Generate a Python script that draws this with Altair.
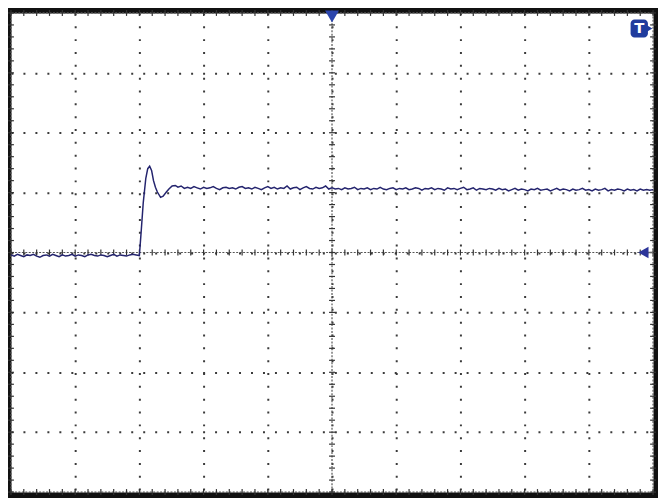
import altair as alt
import pandas as pd

# ---- trace data (divisions) ----
base_v = [-0.04, -0.06, -0.03, -0.05, -0.07, -0.04, -0.05, -0.03, -0.06, -0.08,
          -0.05, -0.04, -0.06, -0.03, -0.05, -0.07, -0.04, -0.06, -0.05, -0.03,
          -0.06, -0.04, -0.05, -0.07, -0.04, -0.03, -0.05, -0.06, -0.04, -0.05,
          -0.07, -0.05, -0.03, -0.06, -0.04, -0.05, -0.06, -0.04, -0.03, -0.04]
base_t = [round(-5 + 0.05 * i, 2) for i in range(len(base_v))]

rise_t = [-3.00, -2.97, -2.94, -2.90, -2.87, -2.84, -2.81, -2.78, -2.75, -2.72,
          -2.67, -2.63, -2.58, -2.54, -2.49, -2.44, -2.40, -2.35, -2.30]
rise_v = [-0.05, 0.38, 0.83, 1.24, 1.40, 1.44, 1.37, 1.20, 1.09, 1.01,
          0.92, 0.94, 1.01, 1.06, 1.11, 1.12, 1.09, 1.11, 1.07]

settle_v = [1.09, 1.07, 1.10, 1.08, 1.06, 1.09, 1.07, 1.08, 1.10, 1.07,
            1.05, 1.08, 1.09, 1.07, 1.08, 1.06, 1.09, 1.10, 1.07, 1.08,
            1.06, 1.09, 1.07, 1.05, 1.08, 1.10, 1.07, 1.09, 1.06, 1.08,
            1.07, 1.11, 1.06, 1.08, 1.09, 1.05, 1.08, 1.10, 1.07, 1.06,
            1.09, 1.07, 1.08, 1.11, 1.06,
            1.08, 1.06, 1.07, 1.05, 1.08, 1.06, 1.07, 1.09, 1.05, 1.07,
            1.06, 1.08, 1.05, 1.07, 1.06, 1.09, 1.06, 1.05, 1.07, 1.08,
            1.05, 1.07, 1.06, 1.08, 1.05, 1.06, 1.08, 1.07, 1.04, 1.07,
            1.06, 1.08, 1.05, 1.07, 1.06, 1.04, 1.08, 1.06, 1.07, 1.05,
            1.07, 1.09, 1.05, 1.06, 1.08, 1.04, 1.07, 1.06, 1.05, 1.07,
            1.06, 1.04, 1.07, 1.05, 1.06, 1.03, 1.05, 1.07, 1.04, 1.06,
            1.05, 1.03, 1.06, 1.05, 1.07, 1.04, 1.05, 1.06, 1.03, 1.05,
            1.07, 1.04, 1.06, 1.05, 1.03, 1.06, 1.04, 1.05, 1.07, 1.04,
            1.05, 1.03, 1.06, 1.04, 1.05, 1.07, 1.03, 1.05, 1.04, 1.06,
            1.05, 1.03, 1.06, 1.04, 1.05, 1.03, 1.06, 1.04, 1.05, 1.04, 1.05]
settle_t = [round(-2.25 + 0.05 * i, 2) for i in range(len(settle_v))]

trace = pd.DataFrame({"x": base_t + rise_t + settle_t,
                      "y": base_v + rise_v + settle_v})

# ---- graticule ----
major_x = [-4, -3, -2, -1, 0, 1, 2, 3, 4]
major_y = [-3, -2, -1, 0, 1, 2, 3]
minor_x = [round(-5 + 0.2 * i, 1) for i in range(51)]
minor_y = [round(-4 + 0.2 * i, 1) for i in range(41)]
axis_lines_x = [-5, 0, 5]
axis_lines_y = [-4, 0, 4]

W, H = 650, 485
xs = alt.Scale(domain=[-5, 5], nice=False, zero=False)
ys = alt.Scale(domain=[-4, 4], nice=False, zero=False)
xa = alt.Axis(values=major_x, grid=True, gridDash=[2, 11], gridColor="#3a3a3a",
              gridWidth=2, labels=False, ticks=False, domain=False, title="")
ya = alt.Axis(values=major_y, grid=True, gridDash=[2, 10.125], gridColor="#3a3a3a",
              gridWidth=2, labels=False, ticks=False, domain=False, title="")


def X(f="x"):
    return alt.X(f"{f}:Q", scale=xs, axis=xa)


def Y(f="y"):
    return alt.Y(f"{f}:Q", scale=ys, axis=ya)


grid_base = alt.Chart(pd.DataFrame({"x": [0.0], "y": [0.0]})).mark_point(opacity=0).encode(x=X(), y=Y())

vrules = alt.Chart(pd.DataFrame({"x": axis_lines_x})).mark_rule(
    color="#555555", strokeWidth=1.2, strokeDash=[2, 1.5]).encode(x=X())
hrules = alt.Chart(pd.DataFrame({"y": axis_lines_y})).mark_rule(
    color="#555555", strokeWidth=1.2, strokeDash=[2, 1.5]).encode(y=Y())

tx = pd.DataFrame([(x, y) for y in axis_lines_y for x in minor_x], columns=["x", "y"])
ty = pd.DataFrame([(x, y) for x in axis_lines_x for y in minor_y], columns=["x", "y"])
ticks_h = alt.Chart(tx).mark_tick(orient="vertical", size=6, thickness=1.2, color="#333333",
                                  opacity=1).encode(x=X(), y=Y())
ticks_v = alt.Chart(ty).mark_tick(orient="horizontal", size=6, thickness=1.2, color="#333333",
                                  opacity=1).encode(x=X(), y=Y())

line = alt.Chart(trace).mark_line(color="#24246e", strokeWidth=1.5).encode(x=X(), y=Y())

# ---- markers ----
trig = alt.Chart(pd.DataFrame({"x": [0.0], "y": [3.94]})).mark_point(
    shape="triangle-down", filled=True, color="#2b45ad", size=200, opacity=1).encode(x=X(), y=Y())
gnd_line = alt.Chart(pd.DataFrame({"x": [4.9], "x2": [5.0], "y": [0.0]})).mark_rule(
    color="#666666", strokeWidth=1.5).encode(x=X(), x2="x2:Q", y=Y())
gnd = alt.Chart(pd.DataFrame({"x": [4.85], "y": [0.0]})).mark_point(
    shape="triangle-left", filled=True, color="#2b3499", size=140, opacity=1).encode(x=X(), y=Y())
tbox = alt.Chart(pd.DataFrame({"x": [4.65], "x2": [4.92], "y": [3.89], "y2": [3.59]})).mark_rect(
    color="#1f3c9e", cornerRadius=4).encode(x=X(), x2="x2:Q", y=Y(), y2="y2:Q")
ttip = alt.Chart(pd.DataFrame({"x": [4.93], "y": [3.74]})).mark_point(
    shape="triangle-right", filled=True, color="#1f3c9e", size=80, opacity=1).encode(x=X(), y=Y())
ttext = alt.Chart(pd.DataFrame({"x": [4.785], "y": [3.74], "t": ["T"]})).mark_text(
    color="white", fontSize=15, fontWeight="bold", font="DejaVu Sans", baseline="middle",
    align="center").encode(x=X(), y=Y(), text="t:N")

chart = alt.layer(grid_base, vrules, hrules, ticks_h, ticks_v, line, gnd_line, gnd, trig,
                  tbox, ttip, ttext).properties(
    width=W, height=H,
    background="#111111",
    padding={"left": 3, "top": 2, "right": 5, "bottom": 3},
    autosize=alt.AutoSizeParams(type="none"),
).configure_view(fill="#ffffff", stroke="transparent")

chart.save("out.html", embed_options={"renderer": "svg", "actions": False})
